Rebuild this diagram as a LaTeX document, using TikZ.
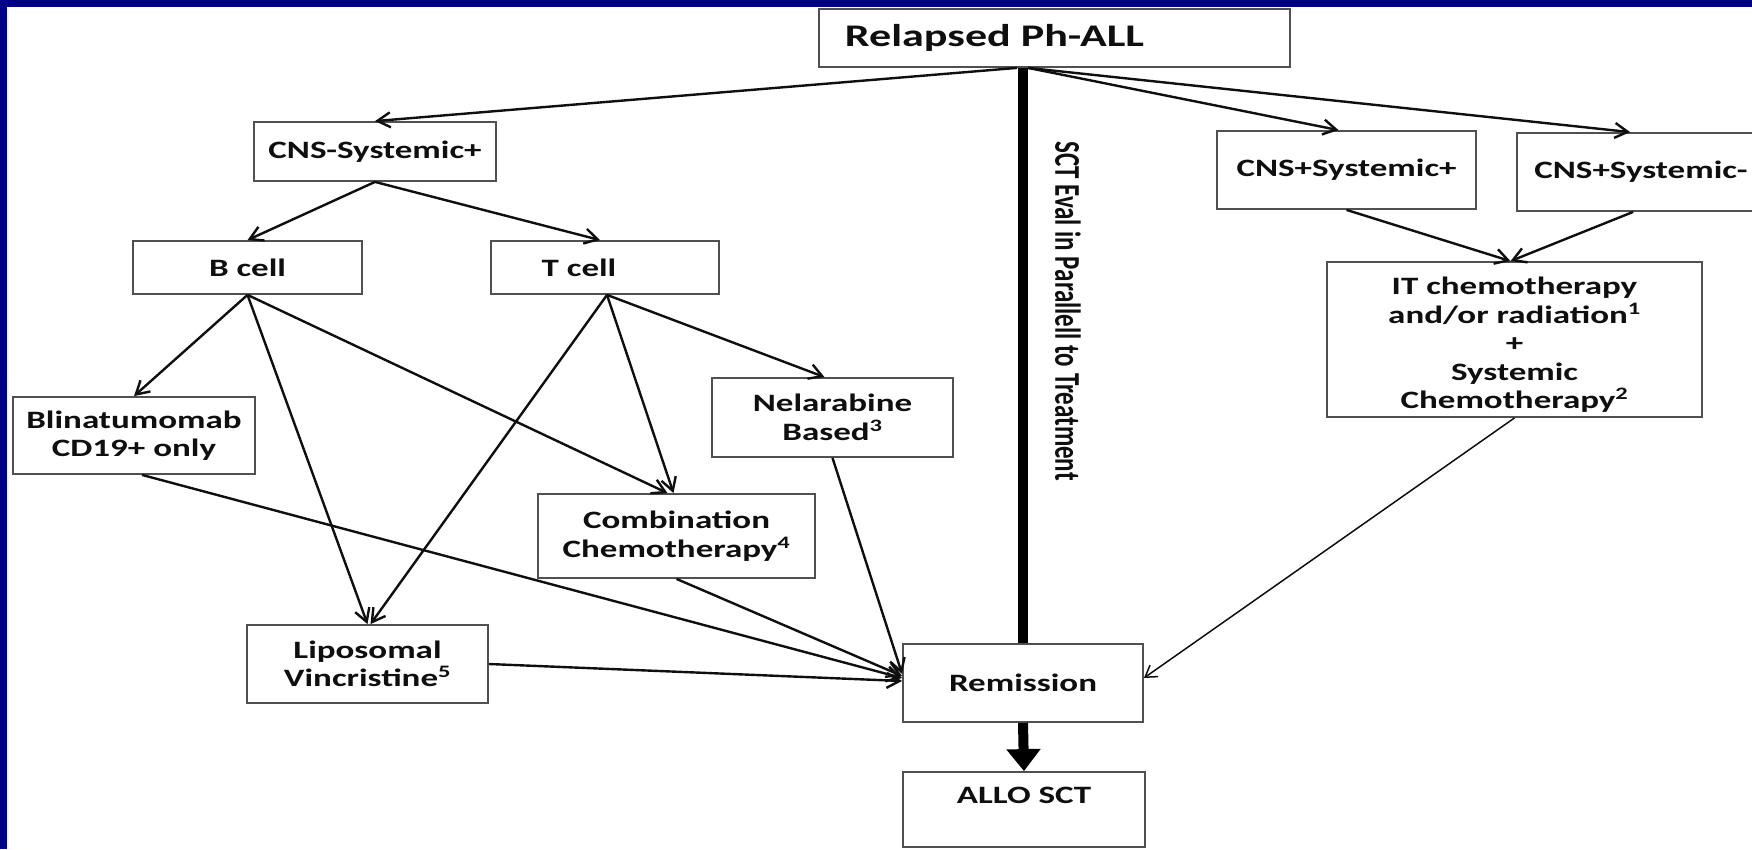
\documentclass[tikz,border=0pt]{standalone}
\usepackage{graphicx}
\usepackage{fontspec}
\setmainfont{Carlito}[FakeStretch=1.4]
\newfontfamily\uprightfont{Carlito}
\usetikzlibrary{arrows.meta}
\definecolor{slideblue}{RGB}{0,0,135}
\definecolor{ink}{RGB}{15,15,15}
\definecolor{frame}{RGB}{80,80,80}

\begin{document}
\begin{tikzpicture}[x=1pt,y=-1pt,
  box/.style={draw=frame, line width=1.8pt, fill=white, text=ink,
    font=\bfseries\fontsize{25}{28.5}\selectfont, align=center, inner sep=0pt},
  link/.style={draw=ink, line width=2.4pt,
    -{Straight Barb[length=13pt,width=15pt]}},
  thinlink/.style={draw=ink, line width=1.5pt,
    -{Straight Barb[length=11pt,width=14pt]}},
  spine/.style={draw=black, line width=10pt},
  spinearrow/.style={draw=black, line width=10pt,
    -{Triangle[length=22pt,width=33pt]}}
]
\useasboundingbox (0,0) rectangle (1752,849);
% slide background and its blue frame
\fill[white] (0,0) rectangle (1752,849);
\fill[slideblue] (0,0) rectangle (1752,7);
\fill[slideblue] (0,0) rectangle (7,849);

% boxes
\node[box, minimum width=471pt, minimum height=58pt,
      font=\bfseries\fontsize{31.5}{33}\selectfont] (rel) at (1054.5,38)
  {Relapsed Ph-ALL\hspace*{120pt}};
\node[box, minimum width=242pt, minimum height=59pt] (cnsm) at (375,151.5) {CNS-Systemic+};
\node[box, minimum width=229pt, minimum height=53pt] (bcell) at (247.5,267.5) {B cell};
\node[box, minimum width=228pt, minimum height=53pt] (tcell) at (605,267.5) {T cell\hspace*{52pt}};
\node[box, minimum width=242pt, minimum height=77pt] (blin) at (134,435.5) {Blinatumomab\\CD19+ only};
\node[box, minimum width=241pt, minimum height=79pt] (nel) at (832.5,417.5) {Nelarabine\\Based\textsuperscript{3}};
\node[box, minimum width=277pt, minimum height=84pt] (comb) at (676.5,536) {Combination\\Chemotherapy\textsuperscript{4}};
\node[box, minimum width=241pt, minimum height=78pt] (lipo) at (367.5,664) {Liposomal\\Vincristine\textsuperscript{5}};
\node[box, minimum width=240pt, minimum height=78pt] (rem) at (1023,683) {Remission};
\node[box, minimum width=242pt, minimum height=75pt] (allo) at (1024,809.5) {ALLO SCT\\ \mbox{}};
\node[box, minimum width=259pt, minimum height=78pt] (cnspp) at (1346.5,170) {CNS+Systemic+};
\node[box, minimum width=248pt, minimum height=78pt] (cnspm) at (1641,172) {CNS+Systemic-};
\node[box, minimum width=375pt, minimum height=155pt] (it) at (1514.5,339.5)
  {\rule{0pt}{28pt}IT chemotherapy\\and/or radiation\textsuperscript{1}\\+\\Systemic\\Chemotherapy\textsuperscript{2}};

% vertical label beside the spine
\node[rotate=-90, text=ink, inner sep=0pt] (sctlabel) at (1068,311)
  {\scalebox{1}[1.45]{\uprightfont\bfseries\fontsize{25}{27}\selectfont SCT Eval in Parallell to Treatment}};

% spine from the top box to remission, then on to transplant
\coordinate (top) at (rem.north |- rel.south);
\draw[spine] (top) -- (rem.north);
\draw[spinearrow] (rem.south) -- (allo.north);

% branches from the top box
\draw[link] ([xshift=-6pt]top) -- (cnsm.north);
\draw[link] ([xshift=5pt]top) -- ([xshift=-8pt]cnspp.north);
\draw[link] ([xshift=5pt]top) -- ([xshift=114pt]cnspm.north west);

% CNS-negative systemic relapse
\draw[link] (cnsm.south) -- (bcell.north);
\draw[link] (cnsm.south) -- ([xshift=-5pt]tcell.north);
\draw[link] (bcell.south) -- (blin.north);
\draw[link] (bcell.south) -- (lipo.north);
\draw[link] (bcell.south) -- ([xshift=-9pt]comb.north);
\draw[link] ([xshift=2pt]tcell.south) -- ([xshift=3pt]lipo.north);
\draw[link] ([xshift=2pt]tcell.south) -- ([xshift=-3pt]comb.north);
\draw[link] ([xshift=2pt]tcell.south) -- ([xshift=-8pt]nel.north);

% treatments converging on remission
\draw[link] ([xshift=8pt]blin.south) -- ([yshift=5pt]rem.west);
\draw[link] (comb.south) -- ([yshift=7pt]rem.west);
\draw[link] (nel.south) -- ([yshift=9pt]rem.west);
\draw[link] (lipo.east) -- ([yshift=2pt]rem.west);

% CNS-positive relapse
\draw[link] (cnspp.south) -- ([xshift=-4pt]it.north);
\draw[link] ([xshift=117pt]cnspm.south west) -- ([xshift=-4pt]it.north);
\draw[thinlink] (it.south) -- ([yshift=5pt]rem.east);
\end{tikzpicture}
\end{document}
